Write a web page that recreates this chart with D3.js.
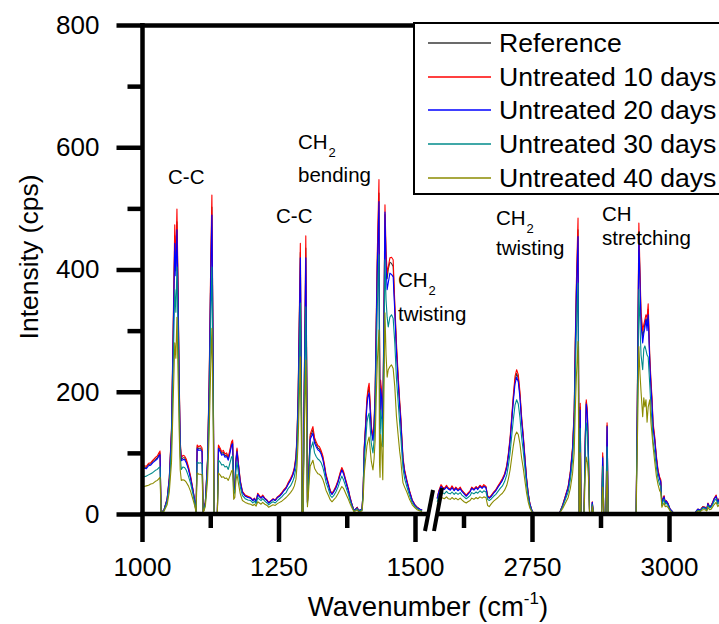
<!DOCTYPE html>
<html><head><meta charset="utf-8">
<script src="https://cdn.jsdelivr.net/npm/d3@7"></script>
<style>
html,body{margin:0;padding:0;background:#fff;}
svg{display:block;font-family:"Liberation Sans",Arial,sans-serif;}
</style></head>
<body><svg id="chart" width="719" height="624"></svg>
<script>
// ---------- DATA ----------
const wnLeft = [1000,1004,1008,1012,1016,1020,1024,1028,1031,1033,1035,1040,1046,1050,1054,1057,1060,1062,1064,1066,1068,1070,1072,1075,1078,1081,1085,1089,1093,1097,1099,1101,1104,1107,1110,1112,1116,1120,1123,1126,1128,1130,1132,1138,1140,1143,1146,1149,1152,1155,1158,1161,1164,1166,1168,1170,1172,1174,1177,1180,1184,1189,1194,1199,1203,1206,1209,1212,1215,1218,1221,1225,1229,1232,1236,1240,1244,1248,1252,1256,1260,1264,1268,1272,1276,1279,1282,1284,1286,1288,1290,1292,1293,1295,1297,1298.5,1300,1302,1303,1305,1308,1311,1313,1316,1319,1322,1325,1328,1331,1334,1337,1341,1345,1348,1351,1355,1359,1363,1366,1369,1372,1375,1378,1381,1384,1388,1391,1394,1397,1400,1403,1405,1407,1409,1412,1414,1416,1418,1420,1423,1425,1427,1429,1431,1434,1435,1436,1437,1439,1441,1443,1445,1447,1449,1451,1454,1457,1460,1463,1466,1469,1472,1474,1476,1478,1481,1485,1490,1495,1500,1504,1509,1513];
const d10Left = [77,79,78,83,84,88,92,95,100,103,3,6,25,60,140,300,473,410,499,380,230,120,92,96,95,90,78,62,42,20,2,113,110,112,108,2,20,90,220,420,522,300,2,2,113,108,102,104,98,100,93,105,118,121,40,45,90,108,80,55,37,31,29,27,23,26,21,34,30,27,31,26,23,19,22,25,23,28,31,35,40,44,52,58,66,76,95,132,200,320,443,200,4,4,203,320,455,200,20,60,130,138,143,125,118,112,110,104,96,82,65,52,38,34,38,45,55,68,76,70,60,50,40,28,18,6,8,11,5,7,8,40,110,140,190,205,214,180,145,126,150,200,320,430,547,300,150,219,200,150,320,506,430,394,404,419,420,416,345,280,230,185,159,125,93,72,56,38,23,15,11,8,6];
const d20Left = [74,75,74,79,80,84,87,90,95,97,3,6,24,57,133,282,443,390,465,355,216,113,87,89,89,84,73,58,40,19,2,107,104,105,102,2,19,85,207,394,489,282,2,2,107,102,96,98,93,94,88,99,112,115,38,43,85,102,76,52,35,29,27,26,22,25,20,32,28,26,29,25,22,18,21,24,22,27,29,33,38,42,49,55,63,72,90,125,190,302,419,190,4,4,190,300,419,188,19,57,122,128,132,116,110,105,103,98,90,77,61,49,36,32,36,42,52,64,72,66,57,47,38,26,17,6,8,10,5,7,8,38,104,132,178,192,198,168,137,120,142,190,300,405,511,280,140,205,188,140,305,494,405,367,378,394,392,388,330,266,218,176,150,118,88,68,53,36,22,14,10,8,6];
const refLeft = [75,77,76,81,82,86,89,92,97,100,3,6,24,58,136,290,455,398,478,365,222,116,89,92,92,87,75,60,41,19,2,110,107,108,105,2,19,87,212,405,502,290,2,2,110,105,99,101,95,97,90,102,115,118,39,44,87,105,78,53,36,30,28,26,22,25,20,33,29,26,30,25,22,18,21,24,22,27,30,34,39,43,50,56,64,74,92,128,194,310,428,194,4,4,196,310,435,193,19,58,126,133,138,121,114,108,106,101,93,79,63,50,37,33,37,44,53,66,74,68,58,48,39,27,17,6,8,11,5,7,8,39,107,136,184,199,207,174,141,122,146,195,310,415,525,290,145,210,193,145,310,490,415,385,400,412,410,405,338,272,224,180,154,121,90,70,54,37,22,15,11,8,6];
const d30Left = [60,61,62,64,66,68,71,73,76,77,2,5,20,48,112,238,367,330,404,300,182,95,73,77,76,72,62,50,34,16,2,85,83,84,82,2,16,72,172,325,404,235,2,2,88,85,80,81,77,78,73,83,93,95,32,36,71,85,64,44,30,25,23,22,18,21,17,27,24,22,25,21,18,15,18,20,18,22,25,28,32,35,42,46,53,61,76,105,160,250,345,160,3,3,160,250,339,155,16,48,104,112,118,100,94,90,88,84,77,66,52,42,30,27,30,36,44,55,62,56,48,40,32,22,14,5,6,9,4,6,6,32,88,110,150,160,165,140,115,100,120,160,250,340,424,230,110,170,155,110,260,416,350,322,306,322,326,320,280,222,185,148,126,100,75,58,45,30,18,12,9,6,5];
const d40Left = [44,45,46,47,49,50,53,55,58,60,2,4,15,36,84,180,280,255,322,230,140,72,55,56,55,52,46,37,25,12,2,67,65,65,64,2,12,54,130,245,304,178,2,2,67,64,60,61,58,59,55,62,70,72,24,27,54,65,48,33,22,19,17,16,14,16,13,20,18,16,19,16,14,11,13,15,14,17,19,21,24,27,31,35,40,46,57,80,120,185,257,120,3,3,120,185,252,115,12,36,78,84,88,75,70,66,65,62,57,49,39,31,23,20,23,27,33,40,45,42,36,30,24,17,11,4,5,7,3,4,5,24,66,85,112,120,126,105,86,72,90,120,190,250,301,83,60,130,110,56,190,329,260,224,236,241,244,238,208,160,130,102,88,68,51,44,36,24,15,10,7,5,4];

const wnRight = [2577,2580,2584,2587,2590,2594,2597,2601,2604,2608,2611,2615,2619,2622,2626,2630,2633,2637,2640,2644,2648,2651,2655,2659,2662,2666,2669,2672,2676,2680,2684,2688,2692,2696,2700,2704,2707,2710,2713,2716,2719,2722,2725,2728,2731,2734,2737,2740,2743,2746,2749,2752,2800,2806,2811,2816,2820,2824,2827,2829,2831,2834,2836,2837,2838,2839.5,2845,2847,2849,2851,2853,2855,2859,2860,2862,2877,2879,2881,2885,2887,2889,2940,2942,2943.5,2945,2947,2949,2952,2954,2956,2958,2960,2962,2965,2967,2969,2971,2974,2977,2980,2983,2985,2987,2989,2991,2993,2995,2998,3002,3007,3015,3047,3050,3053,3057,3060,3062,3066,3069,3071,3074,3077,3080,3082,3086,3089,3093,3097,3103,3110];
const d10Right = [26,38,48,44,42,47,43,41,46,40,44,40,44,39,35,31,34,38,44,41,45,42,47,44,48,45,30,27,31,36,40,46,52,58,66,80,100,125,160,195,225,236,228,200,160,130,95,60,35,18,8,2,1,15,30,45,70,110,170,285,380,484,2,2,181,2,2,120,187,170,100,2,2,20,2,2,100,2,2,149,2,2,170,320,476,400,330,300,310,318,326,320,344,257,220,190,149,126,95,72,60,56,18,25,30,20,22,18,8,3,1,1,5,8,6,10,12,11,8,18,12,14,20,25,31,20,28,25,30,28];
const d20Right = [25,36,45,42,40,44,41,39,43,38,42,38,41,37,33,29,32,36,42,39,43,40,45,42,45,43,28,26,29,34,38,44,49,55,63,76,95,119,152,185,213,224,216,190,152,123,90,57,33,17,8,2,1,14,28,43,66,104,160,270,360,454,2,2,170,2,2,114,180,162,95,2,2,19,2,2,92,2,2,143,2,2,160,305,454,380,310,280,295,305,318,300,326,245,208,180,140,120,90,68,57,52,17,24,28,19,21,17,8,3,1,1,5,8,6,9,11,10,8,17,11,13,19,24,29,19,27,24,28,27];
const refRight = [25,37,46,43,41,45,42,40,44,39,43,39,42,38,34,30,33,37,43,40,44,41,46,43,46,44,29,26,30,35,39,45,50,56,64,78,97,121,155,190,219,230,222,195,156,127,92,58,34,17,8,2,1,15,29,44,68,107,165,276,368,465,2,2,175,2,2,117,183,166,97,2,2,19,2,2,95,2,2,145,2,2,165,310,462,388,320,290,300,312,320,310,335,250,214,185,145,122,92,70,58,54,17,24,29,19,21,17,8,3,1,1,5,8,6,10,12,11,8,17,12,14,19,24,30,19,27,24,29,27];
const d30Right = [20,30,38,35,33,37,34,33,36,32,35,32,35,31,28,25,27,30,35,33,36,34,38,35,38,36,24,22,25,29,32,37,42,46,53,64,80,100,128,155,178,187,180,158,126,103,75,48,28,14,6,2,1,12,24,36,56,88,136,228,300,378,2,2,140,2,2,95,149,135,80,2,2,16,2,2,78,2,2,110,2,2,140,250,367,310,260,236,270,275,268,260,257,210,175,150,118,100,76,58,48,45,14,20,24,16,18,14,6,2,1,1,4,6,5,8,10,9,6,14,10,11,16,20,25,16,22,20,24,22];
const d40Right = [14,22,28,26,25,28,25,24,27,24,26,23,26,23,20,18,20,22,26,24,27,25,28,26,28,27,14,12,17,21,24,27,31,34,39,47,58,72,92,112,128,134,130,115,92,75,55,35,20,10,5,1,1,9,18,27,42,66,100,170,225,282,2,2,100,2,2,60,93,85,60,2,2,12,2,2,44,2,2,70,2,2,100,185,274,230,200,159,190,175,187,150,175,187,150,130,110,85,62,48,38,35,11,15,18,12,13,11,5,2,1,1,3,5,4,6,7,7,5,11,7,8,12,15,19,12,17,15,18,17];

const seriesNames = ["Reference","Untreated 10 days","Untreated 20 days","Untreated 30 days","Untreated 40 days"];
const seriesColors = ["#3a3a3a","#ff0000","#0000ff","#008b8b","#8b8b00"];
const leftValues = [refLeft,d10Left,d20Left,d30Left,d40Left];
const rightValues = [refRight,d10Right,d20Right,d30Right,d40Right];

const yMajor = [0,200,400,600,800];
const yMinor = [100,300,500,700];
const xLeftMajor = [1000,1250,1500];
const xLeftMinor = [1125,1375];
const xRightMajor = [2750,3000];
const xRightMinor = [2625,2875,3125];

// ---------- DRAW ----------
const svg = d3.select("#chart");
const FONT = '"Liberation Sans", Arial, sans-serif';

const y = d3.scaleLinear().domain([0,800]).range([514,25]);
const xL = d3.scaleLinear().domain([1000,1500]).range([142,415]);
const xR = d3.scaleLinear().domain([2750,3000]).range([532,669]);

const defs = svg.append("defs");
defs.append("clipPath").attr("id","cl").append("rect").attr("x",144).attr("y",27).attr("width",284).attr("height",487);
defs.append("clipPath").attr("id","cr").append("rect").attr("x",436).attr("y",27).attr("width",300).attr("height",487);

const gL = svg.append("g").attr("clip-path","url(#cl)");
const gR = svg.append("g").attr("clip-path","url(#cr)");

seriesNames.forEach((name,i)=>{
  const dl = wnLeft.map((w,j)=>({w, v:leftValues[i][j]}));
  const dr = wnRight.map((w,j)=>({w, v:rightValues[i][j]}));
  gL.append("path").datum(dl)
    .attr("d", d3.line().x(d=>xL(d.w)).y(d=>y(d.v)))
    .attr("fill","none").attr("stroke",seriesColors[i]).attr("stroke-width",1.1).attr("stroke-linejoin","round");
  gR.append("path").datum(dr)
    .attr("d", d3.line().x(d=>xR(d.w)).y(d=>y(d.v)))
    .attr("fill","none").attr("stroke",seriesColors[i]).attr("stroke-width",1.1).attr("stroke-linejoin","round");
});

function styleAxis(g){
  g.select(".domain").remove();
  g.selectAll(".tick line").attr("stroke","#000").attr("stroke-width",4.5);
  g.selectAll(".tick text").attr("font-family",FONT).attr("font-size",26).attr("fill","#000");
}

// Y axis
svg.append("g").attr("transform","translate(142.5,0)")
  .call(d3.axisLeft(y).tickValues(yMajor).tickSize(26).tickPadding(17).tickFormat(d3.format("d")))
  .call(styleAxis);
svg.append("g").attr("transform","translate(142.5,0)")
  .call(d3.axisLeft(y).tickValues(yMinor).tickSize(15).tickFormat(""))
  .call(styleAxis);

// X axes
svg.append("g").attr("transform","translate(0,514)")
  .call(d3.axisBottom(xL).tickValues(xLeftMajor).tickSize(28).tickPadding(16).tickFormat(d3.format("d")))
  .call(styleAxis);
svg.append("g").attr("transform","translate(0,514)")
  .call(d3.axisBottom(xL).tickValues(xLeftMinor).tickSize(14).tickFormat(""))
  .call(styleAxis);
svg.append("g").attr("transform","translate(0,514)")
  .call(d3.axisBottom(xR).tickValues(xRightMajor).tickSize(28).tickPadding(16).tickFormat(d3.format("d")))
  .call(styleAxis);
svg.append("g").attr("transform","translate(0,514)")
  .call(d3.axisBottom(xR).tickValues(xRightMinor).tickSize(14).tickFormat(""))
  .call(styleAxis);

// frame lines
svg.append("line").attr("x1",142.5).attr("x2",142.5).attr("y1",23).attr("y2",516).attr("stroke","#000").attr("stroke-width",4.5);
svg.append("line").attr("x1",140).attr("x2",730).attr("y1",25.5).attr("y2",25.5).attr("stroke","#000").attr("stroke-width",4.5);
svg.append("line").attr("x1",140).attr("x2",427).attr("y1",514).attr("y2",514).attr("stroke","#000").attr("stroke-width",4.5);
svg.append("line").attr("x1",437).attr("x2",730).attr("y1",514).attr("y2",514).attr("stroke","#000").attr("stroke-width",4.5);
// break marks
svg.append("line").attr("x1",425).attr("y1",531).attr("x2",433).attr("y2",490).attr("stroke","#000").attr("stroke-width",4);
svg.append("line").attr("x1",434).attr("y1",531).attr("x2",442).attr("y2",488).attr("stroke","#000").attr("stroke-width",4);

// axis titles
const xt = svg.append("text").attr("x",428).attr("y",616).attr("text-anchor","middle")
  .attr("font-family",FONT).attr("font-size",27.5).attr("fill","#000");
xt.append("tspan").text("Wavenumber (cm");
xt.append("tspan").attr("dy",-12).attr("font-size",17).text("-1");
xt.append("tspan").attr("dy",12).text(")");

svg.append("text").attr("transform","translate(38,257) rotate(-90)").attr("text-anchor","middle")
  .attr("font-family",FONT).attr("font-size",26.5).attr("fill","#000").text("Intensity (cps)");

// annotations
function ann(x, yb, lines){
  const g = svg.append("g").attr("font-family",FONT).attr("fill","#000");
  lines.forEach((ln,k)=>{
    const t = g.append("text").attr("x",x).attr("y",yb + k*ln.gap).attr("font-size",20.5).text(ln.t);
    if (ln.sub) {
      const w = t.node().getComputedTextLength();
      g.append("text").attr("x",x+w+1).attr("y",yb + k*ln.gap + 8).attr("font-size",13).text(ln.sub);
    }
  });
}
ann(168,184,[{t:"C-C",gap:0}]);
ann(298,149,[{t:"CH",sub:"2",gap:0},{t:"bending",gap:33}]);
ann(276,223,[{t:"C-C",gap:0}]);
ann(398,287,[{t:"CH",sub:"2",gap:0},{t:"twisting",gap:34}]);
ann(496,225,[{t:"CH",sub:"2",gap:0},{t:"twisting",gap:30}]);
ann(602,221,[{t:"CH",gap:0},{t:"stretching",gap:24}]);

// legend
svg.append("rect").attr("x",414).attr("y",23).attr("width",400).attr("height",171)
  .attr("fill","#fff").attr("stroke","#000").attr("stroke-width",2);
const rowsY = [43,77,110,144,178];
seriesNames.forEach((name,i)=>{
  svg.append("line").attr("x1",428).attr("x2",491).attr("y1",rowsY[i]).attr("y2",rowsY[i])
    .attr("stroke",seriesColors[i]).attr("stroke-width",1.3);
  svg.append("text").attr("x",499).attr("y",rowsY[i]+9).attr("font-family",FONT).attr("font-size",26.6)
    .attr("fill","#000").text(name);
});
</script></body></html>
